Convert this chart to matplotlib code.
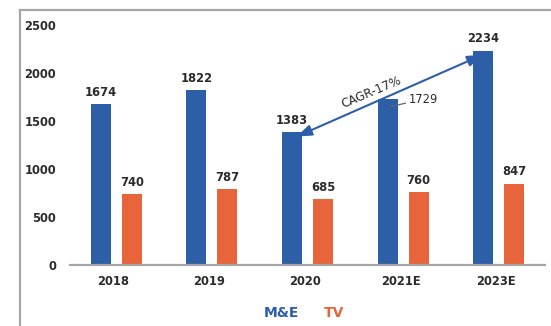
import matplotlib
matplotlib.use("Agg")
import matplotlib.pyplot as plt
from matplotlib.lines import Line2D

categories = ["2018", "2019", "2020", "2021E", "2023E"]
me_values = [1674, 1822, 1383, 1729, 2234]
tv_values = [740, 787, 685, 760, 847]
series_names = ["M&E", "TV"]
y_ticks = [0, 500, 1000, 1500, 2000, 2500]
cagr_label = "CAGR-17%"

BLUE = "#2d5ea8"
ORANGE = "#e8643a"
TEXT = "#2b2b2b"
GRAY = "#a6a6a6"

plt.rcParams["font.family"] = ["DejaVu Sans"]

W, H = 551, 326
fig = plt.figure(figsize=(W / 100, H / 100), dpi=100)
fig.patch.set_facecolor("white")

left, right, top, bottom = 70, 545, 25, 265
ax = fig.add_axes([left / W, 1 - bottom / H, (right - left) / W, (bottom - top) / H])

x = list(range(len(categories)))
off_me, off_tv, bw = -0.135, 0.19, 0.21
xm = [i + off_me for i in x]
xt = [i + off_tv for i in x]
ax.bar(xm, me_values, width=bw, color=BLUE, zorder=2)
ax.bar(xt, tv_values, width=bw, color=ORANGE, zorder=2)

ax.set_xlim(-0.455, 4.51)
ax.set_ylim(0, 2500)
ax.set_yticks(y_ticks)
ax.set_yticklabels([str(t) for t in y_ticks], fontsize=8.3, fontweight="bold", color=TEXT)
ax.set_xticks(x)
ax.set_xticklabels(categories, fontsize=8.3, fontweight="bold", color=TEXT)
ax.tick_params(axis="both", length=0)
ax.tick_params(axis="y", pad=10)
ax.tick_params(axis="x", pad=7)
for s in ["top", "right", "left"]:
    ax.spines[s].set_visible(False)
ax.spines["bottom"].set_color(GRAY)
ax.spines["bottom"].set_linewidth(1.6)
ax.patch.set_alpha(0)

# value labels
for i, (xv, v) in enumerate(zip(xm, me_values)):
    if categories[i] == "2021E":
        ax.annotate(str(v), xy=(xv + 0.03, v - 80), xytext=(xv + 0.37, v),
                    textcoords="data", ha="center", va="center",
                    fontsize=8.3, color=TEXT,
                    arrowprops=dict(arrowstyle="-", color="#666666", lw=0.9,
                                    shrinkA=12, shrinkB=0))
    else:
        ax.annotate(str(v), xy=(xv, v), xytext=(0, 8.5), textcoords="offset points",
                    ha="center", va="center", fontsize=8.3, fontweight="bold", color=TEXT)
for xv, v in zip(xt, tv_values):
    ax.annotate(str(v), xy=(xv, v), xytext=(0, 8.5), textcoords="offset points",
                ha="center", va="center", fontsize=8.3, fontweight="bold", color=TEXT)

# CAGR arrow
i0, i1 = 2, 4
p0 = (xm[i0] + 0.05, me_values[i0] - 45)
p1 = (xm[i1] - 0.01, me_values[i1] - 45)
ax.annotate("", xy=p1, xytext=p0,
            arrowprops=dict(arrowstyle="<|-|>,head_length=0.9,head_width=0.33",
                            color=BLUE, lw=1.5, shrinkA=0, shrinkB=0))
ax.text(2.7, 1800, cagr_label, rotation=23, ha="center", va="center",
        fontsize=8.6, color=TEXT, rotation_mode="anchor")

# legend as colored text
fig.text(281 / W, 1 - 313 / H, series_names[0], color=BLUE, fontsize=10,
         fontweight="bold", ha="center", va="center")
fig.text(334 / W, 1 - 313 / H, series_names[1], color=ORANGE, fontsize=10,
         fontweight="bold", ha="center", va="center")

# frame lines
fig.add_artist(Line2D([20 / W, 1.0], [1 - 10 / H, 1 - 10 / H], color=GRAY, lw=1.6,
                      transform=fig.transFigure))
fig.add_artist(Line2D([20 / W, 20 / W], [0, 1 - 10 / H], color=GRAY, lw=1.6,
                      transform=fig.transFigure))

fig.savefig("out.png", dpi=100)
